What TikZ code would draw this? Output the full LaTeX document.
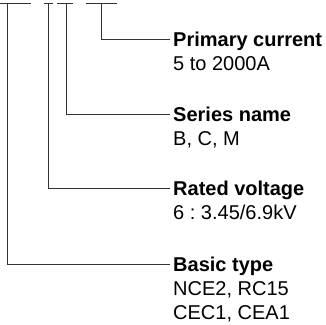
\documentclass[tikz,border=0pt]{standalone}
\usepackage{fontspec}
\setmainfont{Liberation Sans}
\frenchspacing
\tikzset{
  head/.style={anchor=base west,inner sep=0pt,font=\fontsize{20}{24}\selectfont\bfseries},
  sub/.style={anchor=base west,inner sep=0pt,font=\fontsize{20}{24}\selectfont},
  lead/.style={line width=1pt,black!80}
}
\begin{document}
\begin{tikzpicture}[x=1pt,y=-1pt]
\useasboundingbox (0,0) rectangle (326,324);
% bars on top
\draw[lead] (0,3) -- (31,3);\draw[lead] (44,3) -- (53,3);
\draw[lead] (57,3) -- (73,3);\draw[lead] (86,3) -- (117,3);
\coordinate (t1) at (7.5,3);\coordinate (t2) at (48,3);
\coordinate (t3) at (66,3);\coordinate (t4) at (101.5,3);
\coordinate (e1) at (170,264);\coordinate (e2) at (170,188);
\coordinate (e3) at (170,114);\coordinate (e4) at (170,39);
% labels
\node[head] (prim) at (173,46){Primary current};\node[sub] (primv) at (173,70){5 to 2000A};
\node[head] (ser) at (173,121){Series name};\node[sub] (serv) at (173,145){B, C, M};
\node[head] (rat) at (173,195){Rated voltage};\node[sub] (ratv) at (173,219){6 : 3.45/6.9kV};
\node[head] (bas) at (173,271){Basic type};\node[sub] (basv) at (173,295){NCE2, RC15};
\node[sub] (basw) at (173,319){CEC1, CEA1};
% leaders
\draw[lead] (t4) |- (e4);\draw[lead] (t3) |- (e3);
\draw[lead] (t2) |- (e2);\draw[lead] (t1) |- (e1);
\end{tikzpicture}
\end{document}
